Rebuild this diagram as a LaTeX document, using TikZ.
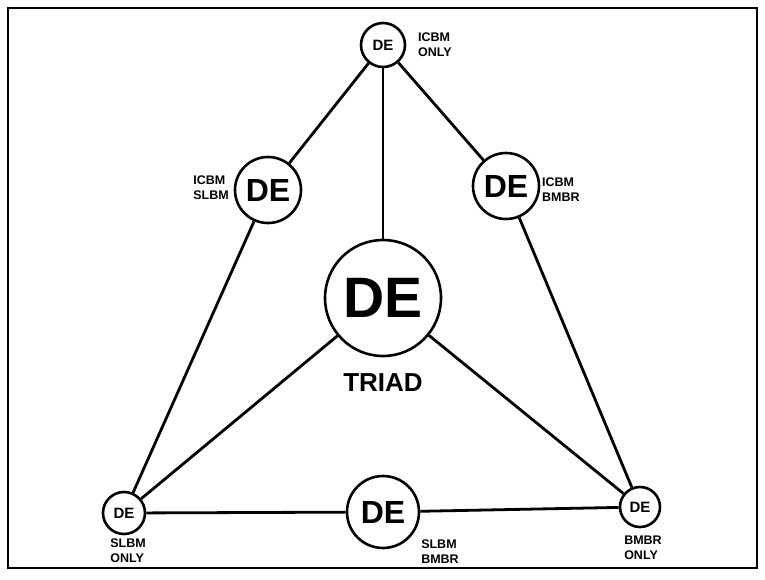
\documentclass[tikz,border=0pt]{standalone}
\usepackage{fontspec}
\setmainfont{Liberation Sans}
\begin{document}
\begin{tikzpicture}[x=1pt,y=-1pt,
  de/.style={circle,draw,line width=2.6pt,inner sep=0pt,font=\bfseries},
  conn/.style={line width=2.8pt},
  lbl/.style={font=\bfseries\fontsize{12.5}{15}\selectfont,inner sep=0pt,align=left}]
\useasboundingbox (0,0) rectangle (765,579);
\draw[line width=2pt] (8,8) rectangle (757,568);
\node[de,minimum size=44pt,font=\bfseries\fontsize{15}{15}\selectfont] (T) at (383,45) {DE};
\node[de,minimum size=66pt,font=\bfseries\fontsize{32}{32}\selectfont] (L) at (268,190) {DE};
\node[de,minimum size=66pt,font=\bfseries\fontsize{32}{32}\selectfont] (R) at (506,186) {DE};
\node[de,minimum size=116pt,font=\bfseries\fontsize{57}{57}\selectfont] (C) at (383,298) {DE};
\node[de,minimum size=42pt,font=\bfseries\fontsize{15}{15}\selectfont] (BL) at (124,513) {DE};
\node[de,minimum size=72pt,font=\bfseries\fontsize{32}{32}\selectfont] (BC) at (383,512) {DE};
\node[de,minimum size=40pt,font=\bfseries\fontsize{15}{15}\selectfont] (BR) at (640,507) {DE};
\node[font=\bfseries\fontsize{26}{26}\selectfont,inner sep=0pt] (triad) at (383,383) {TRIAD};
\node[lbl,anchor=west] (lt) at (418,45) {ICBM\\ONLY};
\node[lbl,anchor=east] (ll) at (229,188) {ICBM\\SLBM};
\node[lbl,anchor=west] (lr) at (542,190) {ICBM\\BMBR};
\node[lbl] (lbl1) at (128,551) {SLBM\\ONLY};
\node[lbl] (lbc) at (440,552) {SLBM\\BMBR};
\node[lbl] (lbr) at (643,548) {BMBR\\ONLY};
\draw[conn] (T) -- (L);
\draw[conn] (T) -- (C);
\draw[conn] (T) -- (R);
\draw[conn] (L) -- (BL);
\draw[conn] (R) -- (BR);
\draw[conn] (C) -- (BL);
\draw[conn] (C) -- (BR);
\draw[conn] (BL) -- (BC);
\draw[conn] (BC) -- (BR);
\end{tikzpicture}
\end{document}
